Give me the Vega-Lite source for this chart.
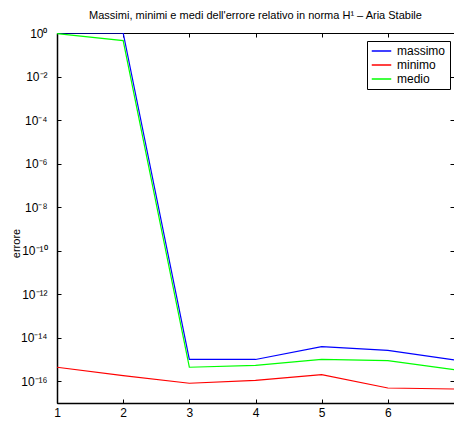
{
  "$schema": "https://vega.github.io/schema/vega-lite/v6.json",
  "width": 397,
  "height": 370,
  "autosize": "none",
  "padding": {"left": 57, "top": 33, "right": 0, "bottom": 21},
  "background": "white",
  "config": {
    "font": "Liberation Sans",
    "view": {"stroke": "black", "strokeWidth": 1}
  },
  "title": {
    "text": "Massimi, minimi e medi dell'errore relativo in norma H¹ – Aria Stabile",
    "fontSize": 11,
    "fontWeight": "normal",
    "color": "black",
    "anchor": "middle",
    "offset": 6
  },
  "data": {
    "values": [
      {"n": 1, "serie": "massimo", "errore": 1.0},
      {"n": 2, "serie": "massimo", "errore": 1.0},
      {"n": 3, "serie": "massimo", "errore": 1.0e-15},
      {"n": 4, "serie": "massimo", "errore": 1.0e-15},
      {"n": 5, "serie": "massimo", "errore": 3.9e-15},
      {"n": 6, "serie": "massimo", "errore": 2.6e-15},
      {"n": 7, "serie": "massimo", "errore": 9.5e-16},
      {"n": 1, "serie": "minimo", "errore": 4.4e-16},
      {"n": 2, "serie": "minimo", "errore": 1.8e-16},
      {"n": 3, "serie": "minimo", "errore": 8.1e-17},
      {"n": 4, "serie": "minimo", "errore": 1.1e-16},
      {"n": 5, "serie": "minimo", "errore": 2.0e-16},
      {"n": 6, "serie": "minimo", "errore": 4.9e-17},
      {"n": 7, "serie": "minimo", "errore": 4.4e-17},
      {"n": 1, "serie": "medio", "errore": 0.93},
      {"n": 2, "serie": "medio", "errore": 0.45},
      {"n": 3, "serie": "medio", "errore": 4.4e-16},
      {"n": 4, "serie": "medio", "errore": 5.4e-16},
      {"n": 5, "serie": "medio", "errore": 1.0e-15},
      {"n": 6, "serie": "medio", "errore": 8.9e-16},
      {"n": 7, "serie": "medio", "errore": 3.4e-16}
    ]
  },
  "layer": [
    {
      "mark": {"type": "line", "strokeWidth": 1.2, "clip": true},
      "encoding": {
        "x": {
          "field": "n", "type": "quantitative",
          "scale": {"domain": [1, 7], "nice": false, "zero": false},
          "axis": {
            "values": [1, 2, 3, 4, 5, 6], "title": null, "grid": false,
            "domainColor": "black", "domainWidth": 1.5,
            "tickColor": "black", "tickSize": -4,
            "labelColor": "black", "labelFontSize": 12, "labelPadding": 8,
            "labelFlush": false
          }
        },
        "y": {
          "field": "errore", "type": "quantitative",
          "scale": {"type": "log", "domain": [1e-17, 1], "nice": false},
          "axis": {
            "values": [1, 1e-2, 1e-4, 1e-6, 1e-8, 1e-10, 1e-12, 1e-14, 1e-16],
            "labelExpr": "'10' + (round(log(datum.value)/LN10) == 0 ? '⁰' : '⁻' + (-round(log(datum.value)/LN10) >= 10 ? '¹' : '') + substring('⁰¹²³⁴⁵⁶⁷⁸⁹', (-round(log(datum.value)/LN10)) % 10, (-round(log(datum.value)/LN10)) % 10 + 1))",
            "title": "errore", "titleFontSize": 11, "titleFontWeight": "normal",
            "titleColor": "black", "titleX": -36, "titleY": 210,
            "grid": false,
            "domainColor": "black", "domainWidth": 1.5,
            "tickColor": "black", "tickSize": -4,
            "labelColor": "black", "labelFontSize": 12, "labelPadding": 14,
            "labelFlush": false
          }
        },
        "color": {
          "field": "serie", "type": "nominal",
          "scale": {"domain": ["massimo", "minimo", "medio"], "range": ["#0000ff", "#ff0000", "#00ff00"]},
          "legend": {
            "title": null, "orient": "none", "legendX": 310, "legendY": 8,
            "symbolType": "stroke", "symbolSize": 380, "symbolStrokeWidth": 1.5,
            "labelFontSize": 12, "labelColor": "black", "labelOffset": 5,
            "clipHeight": 12, "rowPadding": 2, "padding": 4,
            "strokeColor": "black", "fillColor": "white"
          }
        }
      }
    },
    {
      "mark": {"type": "line", "opacity": 0},
      "encoding": {
        "x": {
          "field": "n", "type": "quantitative",
          "scale": {"domain": [1, 7], "nice": false, "zero": false},
          "axis": {
            "orient": "top", "values": [1, 2, 3, 4, 5, 6], "title": null, "grid": false,
            "labels": false, "domain": false, "tickColor": "black", "tickSize": -4
          }
        },
        "y": {
          "field": "errore", "type": "quantitative",
          "scale": {"type": "log", "domain": [1e-17, 1], "nice": false},
          "axis": {
            "orient": "right",
            "values": [1, 1e-2, 1e-4, 1e-6, 1e-8, 1e-10, 1e-12, 1e-14, 1e-16],
            "title": null, "grid": false,
            "labels": false, "domain": false, "tickColor": "black", "tickSize": -4
          }
        },
        "detail": {"field": "serie", "type": "nominal"}
      }
    }
  ],
  "resolve": {"axis": {"x": "independent", "y": "independent"}}
}
